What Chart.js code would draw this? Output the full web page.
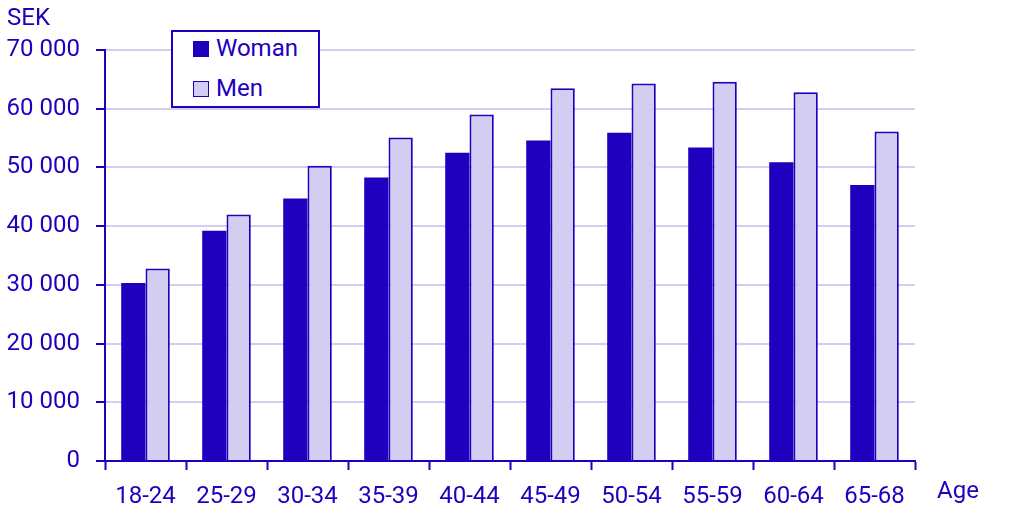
<!DOCTYPE html>
<html>
<head>
<meta charset="utf-8">
<script src="https://cdn.jsdelivr.net/npm/chart.js@4"></script>
<style>
  html, body { margin: 0; padding: 0; background: #fff; }
  #wrap { position: relative; width: 1011px; height: 515px; }
  #legend {
    position: absolute; left: 171px; top: 30px; width: 145px; height: 74px;
    border: 2px solid #1e00be; background: #fff;
    font-family: Roboto, sans-serif; font-size: 24px; color: #1e00be;
  }
  #legend .item { position: absolute; left: 20px; height: 28px; line-height: 28px; }
  #legend .box { display: inline-block; width: 14px; height: 14px; border: 1px solid #1e00be; vertical-align: -1px; margin-right: 7px; }
</style>
</head>
<body>
<div id="wrap">
  <canvas id="myChart" width="1011" height="515"></canvas>
  <div id="legend"></div>
</div>
<script>
const ageGroups = ['18-24', '25-29', '30-34', '35-39', '40-44', '45-49', '50-54', '55-59', '60-64', '65-68'];
const womanValues = [30300, 39200, 44700, 48300, 52500, 54600, 55900, 53400, 50900, 47000];
const menValues = [32800, 42000, 50300, 55100, 59000, 63500, 64300, 64600, 62800, 56100];
const yTicks = [0, 10000, 20000, 30000, 40000, 50000, 60000, 70000];

const dark = '#1e00be';
const light = '#d3cdf2';
const font = { family: 'Roboto', size: 24 };

// SEK and Age labels
const axisTitles = {
    id: 'axisTitles',
    afterDraw(chart) {
        const c = chart.ctx;
        c.save();
        c.fillStyle = dark;
        c.font = '24px Roboto';
        c.textBaseline = 'middle';
        c.textAlign = 'left';
        c.fillText('SEK', 7, 19);
        c.fillText('Age', 937, 492);
        c.restore();
    }
};

const chart = new Chart(document.getElementById('myChart'), {
    type: 'bar',
    data: {
        labels: ageGroups,
        datasets: [{
            label: 'Woman',
            data: womanValues,
            backgroundColor: dark,
            borderColor: dark,
            borderWidth: 0,
        }, {
            label: 'Men',
            data: menValues,
            backgroundColor: light,
            borderColor: dark,
            borderWidth: 2,
        }],
    },
    options: {
        responsive: false,
        animation: false,
        devicePixelRatio: 1,
        layout: { padding: { top: 50, right: 96, left: 0, bottom: 0 } },
        datasets: { bar: { categoryPercentage: 0.6, barPercentage: 1 } },
        plugins: { legend: { display: false }, tooltip: { enabled: false } },
        scales: {
            x: {
                offset: true,
                grid: { display: true, drawOnChartArea: false, tickLength: 9, tickColor: dark, tickWidth: 2 },
                border: { display: true, color: dark, width: 2 },
                ticks: { color: dark, font: font, padding: 13, maxRotation: 0, autoSkip: false },
                afterFit(s) { s.height = 54; }
            },
            y: {
                min: 0,
                max: 70000,
                afterBuildTicks(s) { s.ticks = yTicks.map(v => ({ value: v })); },
                grid: { color: light, lineWidth: 2, tickLength: 9, tickColor: dark, tickWidth: 2 },
                border: { display: true, color: dark, width: 2 },
                ticks: {
                    color: dark, font: font, padding: 16, autoSkip: false,
                    callback: v => v.toLocaleString('en-US').replace(/,/g, ' ')
                },
                afterFit(s) { s.width = 105; }
            }
        }
    },
    plugins: [axisTitles]
});

// legend with box, from dataset labels
const legendEl = document.getElementById('legend');
chart.data.datasets.forEach((ds, i) => {
    const item = document.createElement('div');
    item.className = 'item';
    item.style.top = (2 + i * 40) + 'px';
    item.innerHTML = '<span class="box" style="background:' + ds.backgroundColor + '"></span>' + ds.label;
    legendEl.appendChild(item);
});
</script>
</body>
</html>
